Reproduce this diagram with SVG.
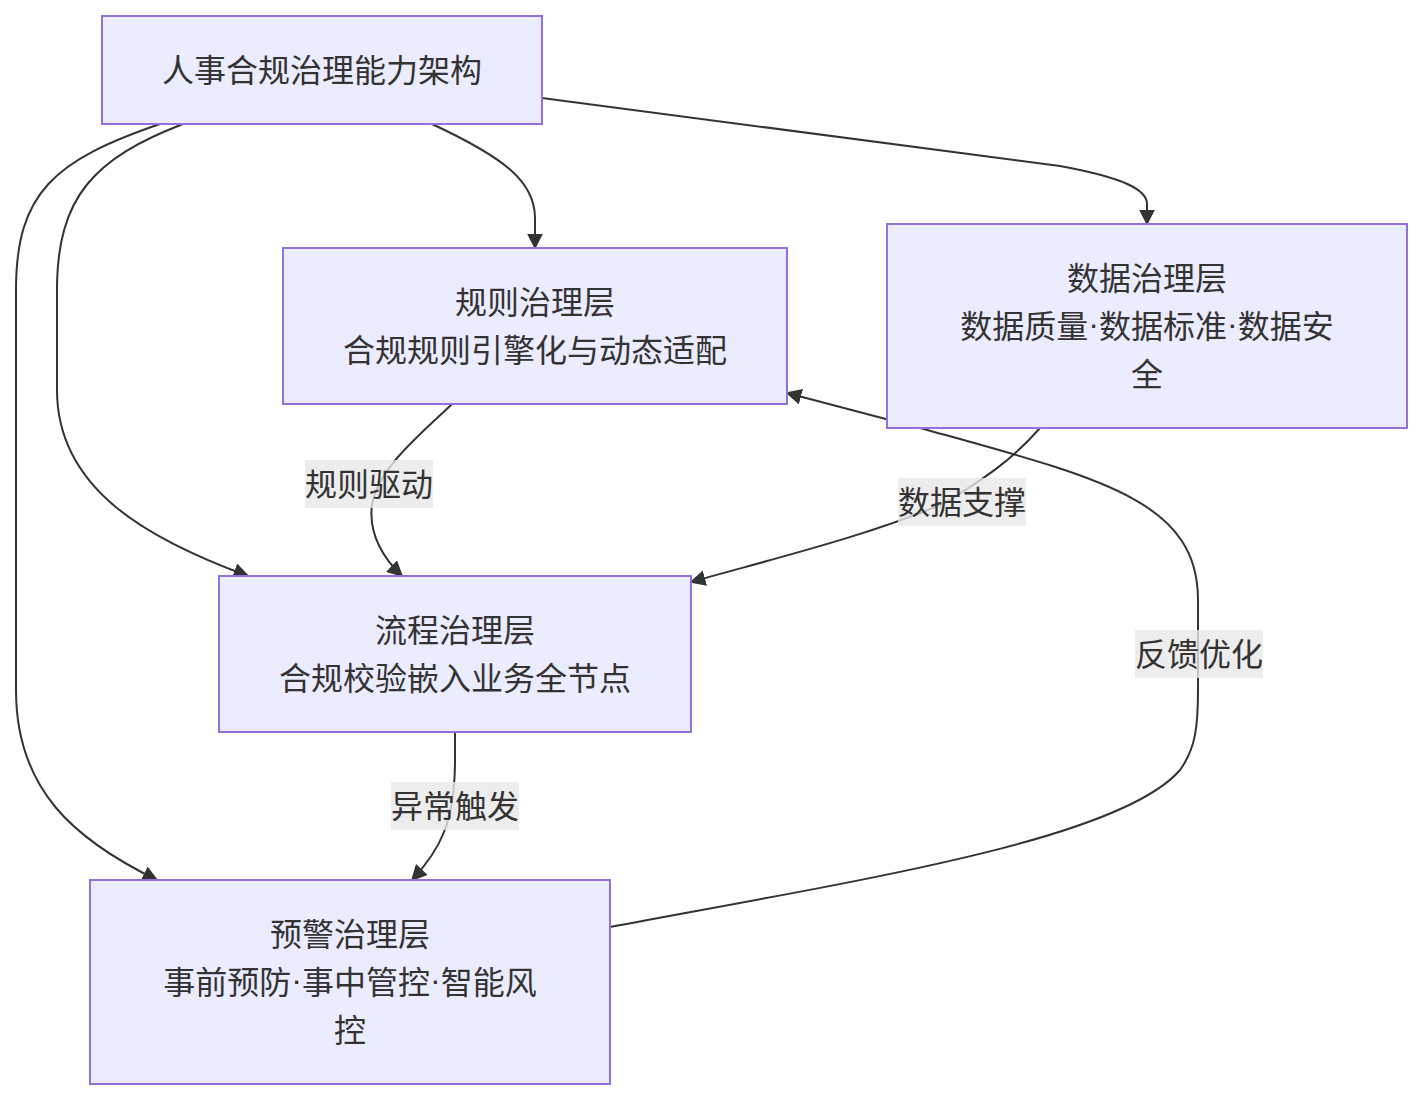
<svg xmlns="http://www.w3.org/2000/svg" width="1423" height="1100" viewBox="0 0 1423 1100">
<style>
.node rect{fill:#ECECFF;stroke:#9370DB;stroke-width:2}
.node text,.lbl text{font-family:"Noto Sans CJK SC","Noto Sans",sans-serif;font-size:32px;fill:#333;text-anchor:middle;dominant-baseline:central}
.dot{font-family:"Liberation Sans",sans-serif}
.edge{fill:none;stroke:#333;stroke-width:2}
.lbl rect{fill:#e8e8e8;fill-opacity:0.8}
</style>
<defs>
<marker id="arr" viewBox="0 0 10 10" refX="9" refY="5" markerWidth="16" markerHeight="16" markerUnits="userSpaceOnUse" orient="auto">
<path d="M0,0 L10,5 L0,10 z" fill="#333"/>
</marker>
</defs>
<rect width="1423" height="1100" fill="#fff"/>
<g id="edges">
<path class="edge" marker-end="url(#arr)" d="M432,124 C505,158 535,182 535,218 L535,248"/>
<path class="edge" marker-end="url(#arr)" d="M542,98 L1060,166 C1125,178 1147,190 1147,204 L1147,224"/>
<path class="edge" marker-end="url(#arr)" d="M183,124 C95,158 57,196 57,290 L57,390 C57,490 150,540 248,576"/>
<path class="edge" marker-end="url(#arr)" d="M160,124 C55,160 16,192 16,290 L16,690 C16,790 75,840 157,880"/>
<path class="edge" marker-end="url(#arr)" d="M452,404 C420,435 378,468 372,505 C368,535 385,560 402,576"/>
<path class="edge" marker-end="url(#arr)" d="M1040,428 C1012,460 985,478 945,503 C870,535 780,557 691,582"/>
<path class="edge" marker-end="url(#arr)" d="M455,732 L455,760 C455,822 440,850 412,880"/>
<path class="edge" marker-end="url(#arr)" d="M610,927 C860,880 1120,840 1180,770 C1196,748 1198,725 1198,690 L1198,600 C1198,500 1100,478 920,428 L787,393"/>
</g>
<g id="edge-labels">
<g class="lbl"><rect x="305" y="460" width="128" height="48"/><text x="369" y="482">规则驱动</text></g>
<g class="lbl"><rect x="898" y="478" width="128" height="48"/><text x="962" y="500">数据支撑</text></g>
<g class="lbl"><rect x="1135" y="630" width="128" height="48"/><text x="1199" y="652">反馈优化</text></g>
<g class="lbl"><rect x="391" y="782" width="128" height="48"/><text x="455" y="804">异常触发</text></g>
</g>
<g id="root" class="node"><rect x="102" y="16" width="440" height="108"/><text x="322" y="68">人事合规治理能力架构</text></g>
<g id="rule" class="node"><rect x="283" y="248" width="504" height="156"/><text x="535" y="300">规则治理层</text><text x="535" y="348">合规规则引擎化与动态适配</text></g>
<g id="data" class="node"><rect x="887" y="224" width="520" height="204"/><text x="1147" y="276">数据治理层</text><text x="1147" y="324">数据质量<tspan class="dot">·</tspan>数据标准<tspan class="dot">·</tspan>数据安</text><text x="1147" y="372">全</text></g>
<g id="process" class="node"><rect x="219" y="576" width="472" height="156"/><text x="455" y="628">流程治理层</text><text x="455" y="676">合规校验嵌入业务全节点</text></g>
<g id="warning" class="node"><rect x="90" y="880" width="520" height="204"/><text x="350" y="932">预警治理层</text><text x="350" y="980">事前预防<tspan class="dot">·</tspan>事中管控<tspan class="dot">·</tspan>智能风</text><text x="350" y="1028">控</text></g>
</svg>
